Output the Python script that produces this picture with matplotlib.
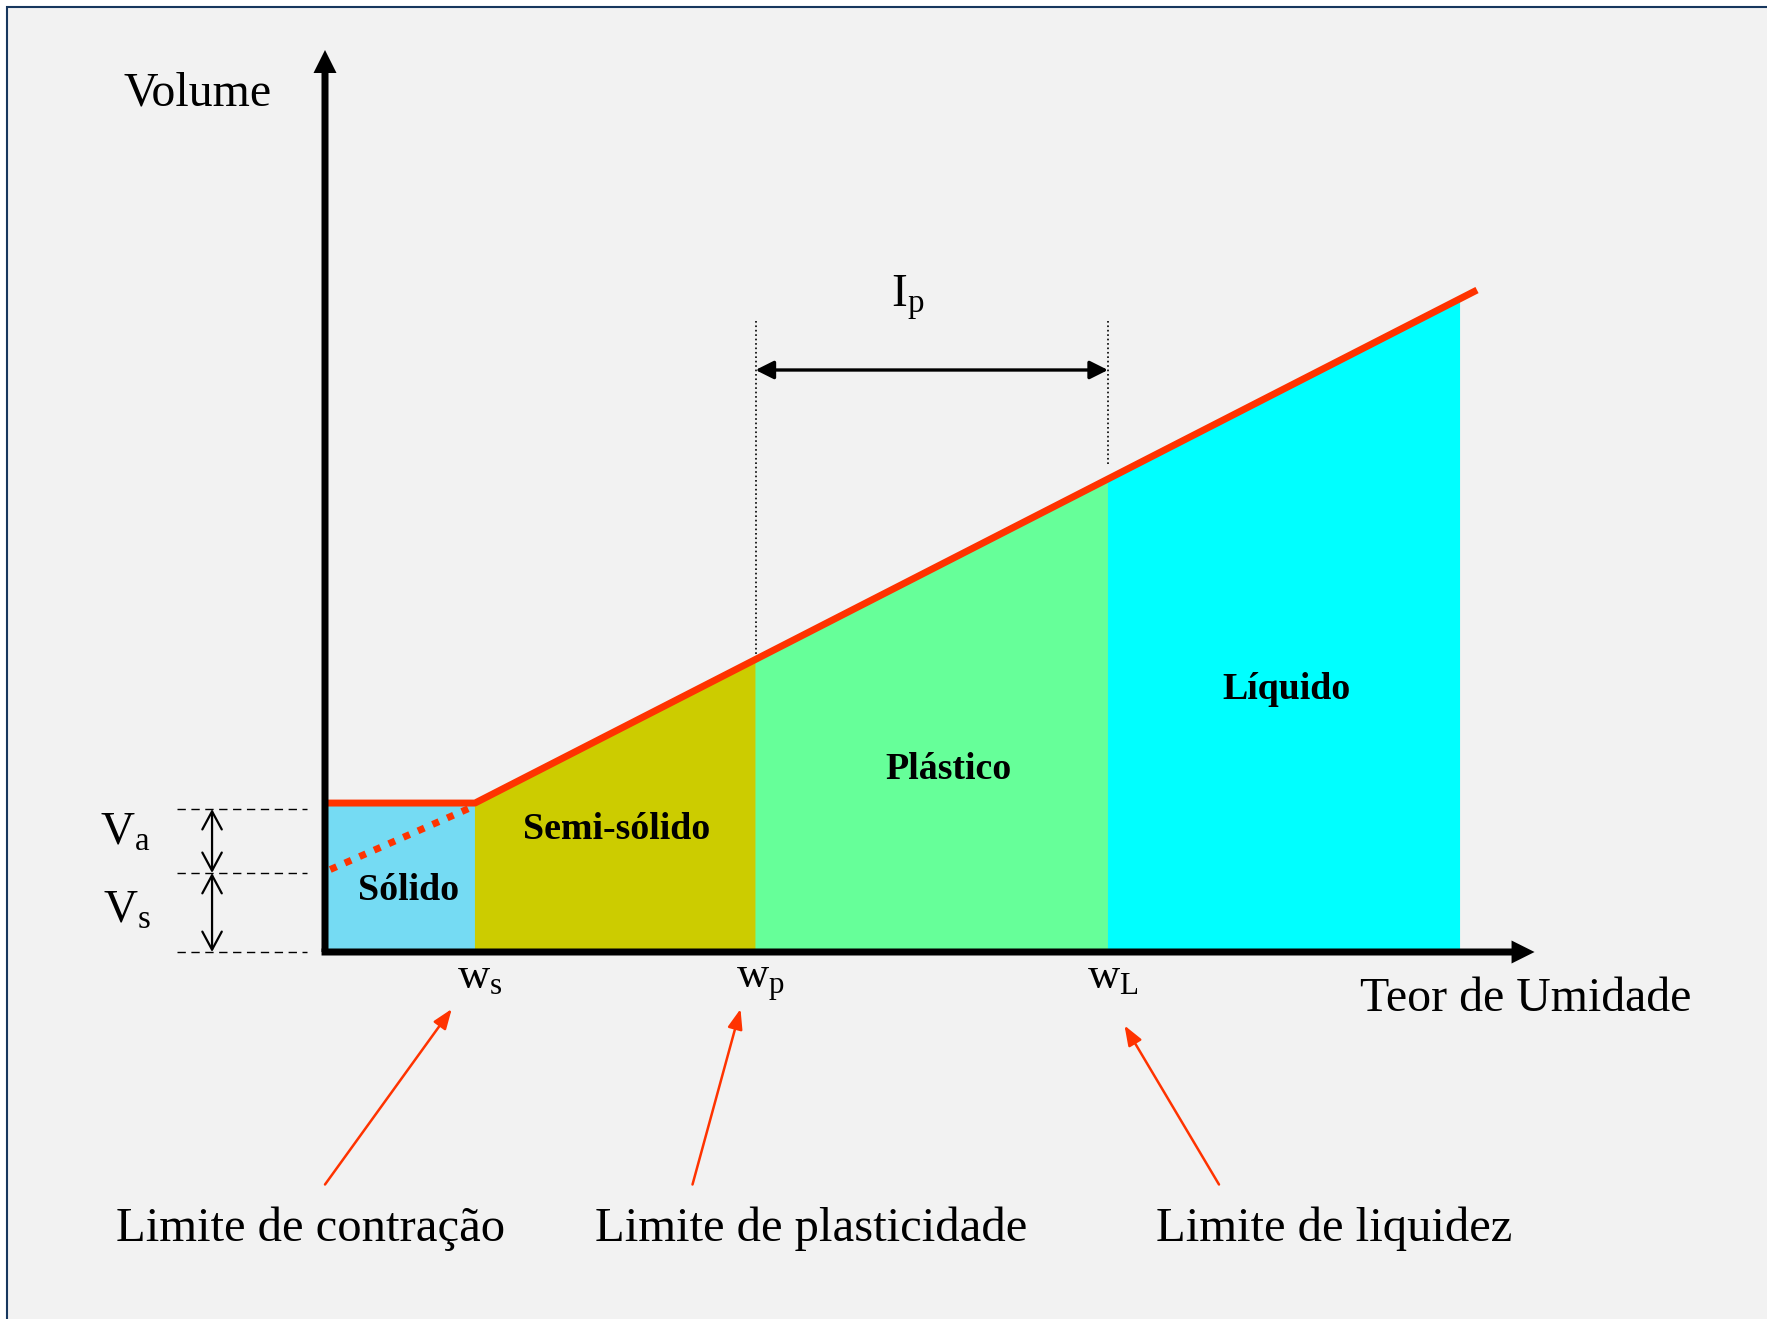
import numpy as np
import matplotlib.pyplot as plt
from matplotlib.patches import Rectangle

# units: moisture content (w) and volume (V), arbitrary scale
w_limits = [10.0, 28.7, 52.2]            # ws, wp, wL
w_limit_labels = [r'$\mathrm{w_s}$', r'$\mathrm{w_p}$', r'$\mathrm{w_L}$']
w_fill_end = 75.6
curve_w = [0.0, 10.0, 76.8]              # red volume curve
curve_v = [9.93, 9.93, 44.13]
dotted_w = [0.35, 10.0]                  # extrapolated (dotted) part
dotted_v = [5.5, 9.75]
v_solid = 5.27                           # Vs
v_total_ws = 9.53                        # Vs + Va

zone_names = ['Sólido', 'Semi-sólido', 'Plástico', 'Líquido']
zone_colors = ['#75dbf3', '#cccc00', '#66ff99', '#00ffff']
zone_label_pos = [(5.6, 4.1), (19.47, 8.17), (41.6, 12.17), (64.07, 17.5)]

limit_names = ['Limite de contração', 'Limite de plasticidade', 'Limite de liquidez']
limit_name_x = [-0.93, 32.4, 67.3]
arrow_start = [(0.0, -15.5), (24.5, -15.5), (59.6, -15.5)]
arrow_tip = [(8.45, -3.8), (27.7, -3.8), (53.3, -4.9)]

plt.rcParams['font.family'] = ['Liberation Serif', 'DejaVu Serif']
plt.rcParams['mathtext.fontset'] = 'custom'
plt.rcParams['mathtext.rm'] = 'Liberation Serif'
plt.rcParams['mathtext.it'] = 'Liberation Serif:italic'

fig = plt.figure(figsize=(17.67, 13.19), dpi=100, facecolor='white')
fig.patches.append(Rectangle((7 / 1767, -0.1), 1.2, 1.1 - 7 / 1319, transform=fig.transFigure,
                             facecolor='#f2f2f2', edgecolor='#17375e', lw=1.5, zorder=-1))
ax = fig.add_axes([0, 0, 1, 1])
ax.set_xlim(-325 / 15, (1767 - 325) / 15)
ax.set_ylim((952 - 1319) / 15, 952 / 15)
ax.axis('off')

red = '#ff3300'

# zone fills under the curve
edges = [0.0] + w_limits + [w_fill_end]
for i, name in enumerate(zone_names):
    xs = np.linspace(edges[i], edges[i + 1], 50)
    ys = np.interp(xs, curve_w, curve_v)
    ax.fill_between(xs, 0, ys, facecolor=zone_colors[i], edgecolor=zone_colors[i], lw=0.8, zorder=1)
    ax.text(*zone_label_pos[i], name, fontsize=27.3, fontweight='bold', ha='center', va='center', zorder=5)

# volume curve
ax.plot(curve_w, curve_v, color=red, lw=5, solid_capstyle='butt', zorder=4)
ax.plot(dotted_w, dotted_v, color=red, lw=5, linestyle=(0, (1.0, 1.3)), zorder=4)

# axes arrows
ax.arrow(0, 0, 0, (952 - 50) / 15, width=7 / 15, head_width=23 / 15, head_length=23 / 15,
         length_includes_head=True, color='k', lw=0, zorder=6)
ax.arrow(-0.23, 0, (1538 - 325) / 15, 0, width=7 / 15, head_width=23 / 15, head_length=23 / 15,
         length_includes_head=True, color='k', lw=0, zorder=6)
ax.text(-8.47, 57.2, 'Volume', fontsize=34.5, ha='center', va='center')
ax.text(80.07, -3.93, 'Teor de Umidade', fontsize=34.5, ha='center', va='baseline')

# Vs / Va guides
for v in [0, v_solid, v_total_ws]:
    ax.plot([-9.9, -1.2], [v, v], color='k', lw=1, linestyle=(0, (6, 4)), zorder=3)
for lo, hi in [(0, v_solid), (v_solid, v_total_ws)]:
    ax.annotate('', xy=(-7.53, hi), xytext=(-7.53, lo),
                arrowprops=dict(arrowstyle='<->,head_length=1.3,head_width=0.7', lw=1.6,
                                color='k', mutation_scale=10, shrinkA=0, shrinkB=0))
ax.text(-13.3, 7.13, r'$\mathrm{V_a}$', fontsize=34, ha='center', va='baseline')
ax.text(-13.2, 1.93, r'$\mathrm{V_s}$', fontsize=34, ha='center', va='baseline')

# limit labels
for w, lab in zip(w_limits, w_limit_labels):
    ax.text(w + 0.3, -2.4, lab, fontsize=32, ha='center', va='baseline')

# plasticity index
wp, wL = w_limits[1], w_limits[2]
ax.plot([wp, wp], [42.07, np.interp(wp, curve_w, curve_v)], color='k', lw=1.2, linestyle=':', zorder=3)
ax.plot([wL, wL], [42.07, 32.47], color='k', lw=1.2, linestyle=':', zorder=3)
ax.annotate('', xy=(wL, 38.8), xytext=(wp, 38.8),
            arrowprops=dict(arrowstyle='<|-|>,head_length=1.1,head_width=0.55', lw=2.4,
                            color='k', mutation_scale=10, shrinkA=0, shrinkB=0))
ax.text((wp + wL) / 2 - 1.6, 43.0, r'$\mathrm{I_p}$', fontsize=34, ha='center', va='baseline')

# bottom notes with red arrows
for name, x, start, tip in zip(limit_names, limit_name_x, arrow_start, arrow_tip):
    ax.text(x, -19.27, name, fontsize=35, ha='center', va='baseline')
    ax.annotate('', xy=tip, xytext=start,
                arrowprops=dict(arrowstyle='-|>,head_length=1.2,head_width=0.45', lw=1.8,
                                color=red, mutation_scale=10, shrinkA=0, shrinkB=0))

fig.savefig('out.png', dpi=100, facecolor=fig.get_facecolor())
